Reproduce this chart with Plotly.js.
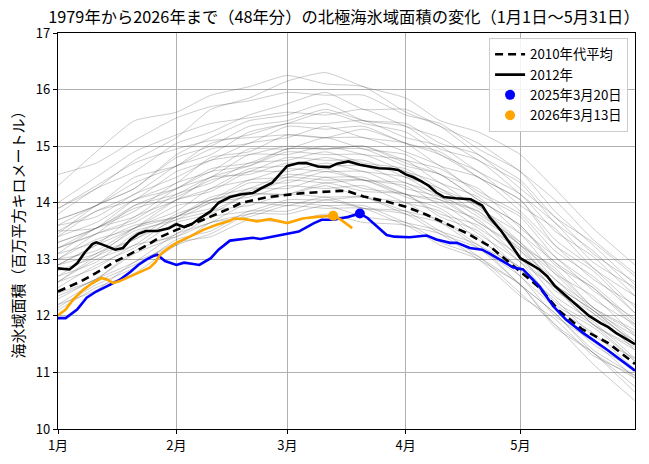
<!DOCTYPE html>
<html><head><meta charset="utf-8">
<script src="https://cdn.plot.ly/plotly-3.0.1.min.js"></script>
<style>html,body{margin:0;padding:0;background:#fff;}#chart{width:649px;height:464px;}</style>
</head><body><div id="chart"></div>
<script>
// x = days since Jan 1 (leap-year calendar, May 31 = 151)
const tickDays = [0, 31, 60, 91, 121];
const tickLabels = ['1月', '2月', '3月', '4月', '5月'];

// gray lines: past years, sampled at these days
const grayDays = [0,10,20,31,40,50,60,70,80,91,100,110,121,130,140,151];
const grayLines = [
[14.3,14.9,15.45,15.6,15.9,16.05,16.25,16.1,16.05,15.6,15.35,14.85,14.4,13.75,13.3,12.7],
[13.9,14.25,14.75,15.15,15.65,15.85,16.15,16.3,16.05,15.85,15.45,15.25,14.85,14.25,13.55,12.9],
[14.5,14.7,15.1,15.5,15.7,15.8,15.95,15.9,15.9,15.55,15.4,14.95,14.55,13.85,13.25,12.55],
[13.8,14.25,14.55,15.05,15.25,15.55,15.75,15.95,15.65,15.65,15.35,15.05,14.55,14.05,13.35,12.75],
[13.6,13.95,14.25,14.85,15.15,15.45,15.55,15.75,15.45,15.35,14.95,14.75,14.15,13.65,12.95,12.5],
[14.0,14.45,14.9,15.2,15.4,15.5,15.6,15.55,15.65,15.35,15.15,14.75,14.35,13.65,13.15,12.45],
[13.5,13.85,14.15,14.65,14.85,15.25,15.4,15.6,15.4,15.25,14.85,14.55,13.95,13.55,12.85,12.35],
[13.7,13.95,14.45,14.65,14.95,15.05,15.35,15.3,15.35,15.05,14.9,14.45,14.05,13.35,12.85,12.15],
[13.4,13.85,14.05,14.55,14.75,15.05,15.15,15.35,15.15,15.05,14.65,14.45,13.85,13.25,12.65,12.2],
[13.3,13.55,14.05,14.35,14.8,14.9,15.2,15.15,15.15,14.9,14.65,14.15,13.75,13.05,12.55,11.9],
[13.9,14.3,14.7,14.95,15.1,15.15,15.2,15.15,15.3,15.05,14.85,14.45,14.05,13.25,12.8,12.05],
[13.2,13.55,13.85,14.35,14.55,14.95,14.95,15.15,14.95,14.85,14.5,14.25,13.55,13.05,12.45,11.95],
[13.6,13.75,14.15,14.45,14.75,14.85,15.0,14.95,15.0,14.7,14.5,14.05,13.6,12.95,12.5,11.8],
[13.1,13.55,13.75,14.25,14.45,14.85,14.85,15.0,14.85,14.75,14.35,14.1,13.45,12.95,12.3,11.85],
[13.4,13.65,14.05,14.25,14.55,14.65,14.9,14.85,14.85,14.55,14.35,13.9,13.45,12.75,12.35,11.65],
[13.0,13.45,13.7,14.15,14.35,14.7,14.75,14.9,14.7,14.6,14.25,13.95,13.25,12.85,12.15,11.7],
[13.3,13.55,13.9,14.1,14.4,14.55,14.8,14.75,14.75,14.45,14.25,13.8,13.3,12.65,12.15,11.55],
[12.9,13.25,13.55,14.05,14.25,14.6,14.65,14.8,14.65,14.55,14.2,13.95,13.3,12.8,12.15,11.75],
[13.5,13.55,13.95,14.15,14.45,14.5,14.7,14.65,14.65,14.35,14.15,13.75,13.25,12.55,12.1,11.5],
[13.2,13.45,13.65,14.05,14.2,14.55,14.55,14.7,14.55,14.45,14.1,13.85,13.15,12.65,12.05,11.55],
[12.8,13.05,13.55,13.85,14.25,14.4,14.6,14.55,14.55,14.25,14.1,13.65,13.15,12.45,12.05,11.4],
[13.0,13.35,13.55,13.95,14.05,14.4,14.45,14.6,14.4,14.3,13.95,13.7,13.0,12.5,11.85,11.45],
[12.7,12.95,13.45,13.75,14.1,14.25,14.5,14.45,14.45,14.15,14.0,13.55,13.05,12.35,11.9,11.25],
[13.1,13.3,13.6,13.75,14.05,14.2,14.45,14.4,14.4,14.1,13.9,13.45,12.95,12.25,11.85,11.2],
[12.6,13.0,13.25,13.75,13.9,14.25,14.25,14.45,14.25,14.15,13.75,13.5,12.8,12.3,11.65,11.25],
[12.9,13.1,13.5,13.7,14.0,14.1,14.3,14.25,14.3,14.0,13.85,13.35,12.85,12.15,11.7,11.05],
[12.5,12.9,13.2,13.65,13.8,14.15,14.15,14.3,14.1,14.0,13.65,13.4,12.7,12.15,11.5,11.05],
[12.4,12.65,13.15,13.45,13.85,13.95,14.15,14.1,14.1,13.8,13.65,13.2,12.7,12.0,11.55,10.9],
[12.3,12.65,12.95,13.45,13.65,14.0,13.95,14.1,13.9,13.8,13.45,13.2,12.55,12.05,11.35,10.9],
[12.2,12.45,12.95,13.25,13.65,13.8,14.0,13.95,13.95,13.65,13.5,13.05,12.55,11.85,11.35,10.65],
[12.1,12.5,12.75,13.25,13.45,13.8,13.8,13.95,13.75,13.65,13.3,13.05,12.4,11.85,11.15,10.5],
[12.6,12.85,13.25,13.4,13.65,13.75,13.95,13.9,13.9,13.6,13.45,13.0,12.55,11.8,11.35,10.75],
[12.2,12.6,12.9,13.3,13.4,13.7,13.65,13.8,13.65,13.6,13.25,13.0,12.35,11.95,11.3,10.95],
[13.0,13.15,13.55,13.75,14.05,14.15,14.4,14.35,14.4,14.15,14.05,13.65,13.2,12.55,12.1,11.5],
[12.7,13.1,13.35,13.7,13.85,14.15,14.15,14.35,14.2,14.15,13.8,13.6,12.95,12.5,11.85,11.4],
[13.7,13.95,14.35,14.65,15.05,15.2,15.4,15.4,15.45,15.15,15.0,14.55,14.15,13.5,13.05,12.35],
[13.45,13.95,14.25,14.8,15.0,15.35,15.45,15.65,15.45,15.4,15.05,14.85,14.25,13.75,13.1,12.6],
[12.9,13.25,13.75,14.05,14.45,14.65,14.95,14.95,14.95,14.65,14.5,14.05,13.6,12.9,12.5,11.85],
[12.6,13.05,13.35,13.8,14.0,14.35,14.35,14.55,14.4,14.35,14.05,13.85,13.25,12.75,12.1,11.65],
[12.35,12.65,13.1,13.4,13.75,13.85,14.05,14.05,14.1,13.85,13.7,13.25,12.85,12.2,11.8,11.2],
[12.15,12.55,12.85,13.35,13.5,13.85,13.85,14.05,13.9,13.85,13.5,13.25,12.55,12.05,11.4,10.95],
[13.2,13.45,13.95,14.25,14.6,14.7,14.95,14.95,15.0,14.75,14.6,14.2,13.8,13.15,12.7,12.05]
];

// 2010s average
const avgDays = [0,6,10,15,22,27,31,38,45,48,55,64,74,76,80,86,91,96,100,107,113,118,121,126,131,137,144,151];
const avgVals = [12.43,12.61,12.76,12.96,13.2,13.4,13.52,13.7,13.9,14.0,14.1,14.17,14.21,14.2,14.11,14.02,13.93,13.8,13.68,13.46,13.23,12.95,12.77,12.5,12.1,11.77,11.52,11.15];

// 2012
const y2012Days = [0,3,5,7,9,10,12,15,17,19,21,23,26,29,31,33,35,37,40,42,45,48,51,53,56,58,60,63,65,68,71,73,76,79,82,84,87,89,91,93,95,97,99,101,104,108,111,113,116,118,121,124,126,128,130,133,136,139,142,144,146,148,151];
const y2012Vals = [12.84,12.82,12.93,13.12,13.27,13.3,13.25,13.17,13.2,13.35,13.45,13.5,13.5,13.55,13.62,13.57,13.62,13.72,13.85,14.0,14.1,14.15,14.17,14.25,14.35,14.5,14.65,14.7,14.7,14.64,14.63,14.69,14.73,14.67,14.63,14.61,14.6,14.58,14.5,14.45,14.38,14.3,14.18,14.1,14.08,14.06,13.95,13.74,13.5,13.3,13.02,12.9,12.82,12.7,12.53,12.35,12.17,12.0,11.87,11.8,11.7,11.62,11.5];

// 2025
const y2025Days = [0,2,5,7.5,10,13.6,16,19,21,23,25,26,28,31,33,35,37,40,42,45,48,51,53,56,60,63,67,69,72,76,79,81,83.5,86,88,92,96.5,99,102.6,104.4,107.8,111,113,115.7,119,121.7,126,129.6,133,137.4,143.7,151];
const y2025Vals = [11.96,11.96,12.11,12.32,12.43,12.55,12.63,12.78,12.9,12.99,13.06,13.08,12.97,12.9,12.94,12.92,12.9,13.02,13.17,13.33,13.36,13.38,13.36,13.4,13.45,13.49,13.64,13.7,13.7,13.75,13.81,13.73,13.58,13.43,13.4,13.39,13.42,13.35,13.29,13.29,13.2,13.17,13.1,12.99,12.86,12.82,12.52,12.17,11.93,11.7,11.4,11.03];

// 2026
const y2026Days = [0,2,4,6.6,9,11.4,13,14.4,16,19,22,24,25.5,26.7,28.4,31,34.5,38,41.5,45,46,49,52,55.5,60,64,67.7,70,72,74,75.5,77];
const y2026Vals = [12.01,12.11,12.29,12.46,12.58,12.67,12.64,12.58,12.61,12.7,12.79,12.85,12.95,13.08,13.17,13.29,13.4,13.52,13.61,13.68,13.72,13.71,13.67,13.71,13.64,13.72,13.75,13.76,13.77,13.7,13.62,13.55];

// annual maxima markers
const max2025 = {day: 79, val: 13.81, label: '2025年3月20日'};
const max2026 = {day: 72, val: 13.77, label: '2026年3月13日'};

const FONT = '"Noto Sans CJK JP", "Noto Sans", sans-serif';
const traces = [];
grayLines.forEach(v => traces.push({
  x: grayDays, y: v, mode: 'lines', showlegend: false, hoverinfo: 'skip',
  line: {color: 'rgba(80,80,80,0.36)', width: 0.8, shape: 'spline', smoothing: 0.5}
}));
traces.push({x: avgDays, y: avgVals, mode: 'lines', name: '2010年代平均',
  line: {color: 'black', width: 2.6, dash: '8px,5px'}});
traces.push({x: y2012Days, y: y2012Vals, mode: 'lines', name: '2012年',
  line: {color: 'black', width: 2.6}});
traces.push({x: y2025Days, y: y2025Vals, mode: 'lines', showlegend: false,
  line: {color: '#0000ff', width: 2.6}});
traces.push({x: y2026Days, y: y2026Vals, mode: 'lines', showlegend: false,
  line: {color: '#ffa500', width: 2.6}});
traces.push({x: [max2025.day], y: [max2025.val], mode: 'markers', name: max2025.label,
  marker: {color: '#0000ff', size: 10}});
traces.push({x: [max2026.day], y: [max2026.val], mode: 'markers', name: max2026.label,
  marker: {color: '#ffa500', size: 10}});

const layout = {
  width: 649, height: 464,
  margin: {l: 58, r: 14, t: 33, b: 35},
  paper_bgcolor: '#fff', plot_bgcolor: '#fff',
  font: {family: FONT, color: '#000', size: 13},
  title: {text: '1979年から2026年まで（48年分）の北極海氷域面積の変化（1月1日～5月31日）',
    font: {family: FONT, size: 16.3, color: '#000'}, x: 0.53, xanchor: 'center', y: 0.962, yanchor: 'middle'},
  xaxis: {range: [0, 151], tickvals: tickDays, ticktext: tickLabels, ticks: 'outside', ticklen: 4,
    tickcolor: '#000', showgrid: true, gridcolor: '#b0b0b0', gridwidth: 1, zeroline: false,
    showline: true, mirror: true, linecolor: '#000', linewidth: 1.2, tickfont: {size: 13}},
  yaxis: {range: [10, 17], dtick: 1, ticks: 'outside', ticklen: 4, tickcolor: '#000',
    showgrid: true, gridcolor: '#b0b0b0', gridwidth: 1, zeroline: false,
    showline: true, mirror: true, linecolor: '#000', linewidth: 1.2, tickfont: {size: 13},
    title: {text: '海氷域面積（百万平方キロメートル）', font: {size: 15}, standoff: 7}},
  legend: {x: 0.988, xanchor: 'right', y: 0.987, yanchor: 'top', bgcolor: 'rgba(255,255,255,0.85)',
    bordercolor: '#cccccc', borderwidth: 1, font: {size: 13.3}, tracegroupgap: 0, itemwidth: 30},
  showlegend: true
};
Plotly.newPlot('chart', traces, layout, {staticPlot: true, displayModeBar: false});
</script></body></html>
